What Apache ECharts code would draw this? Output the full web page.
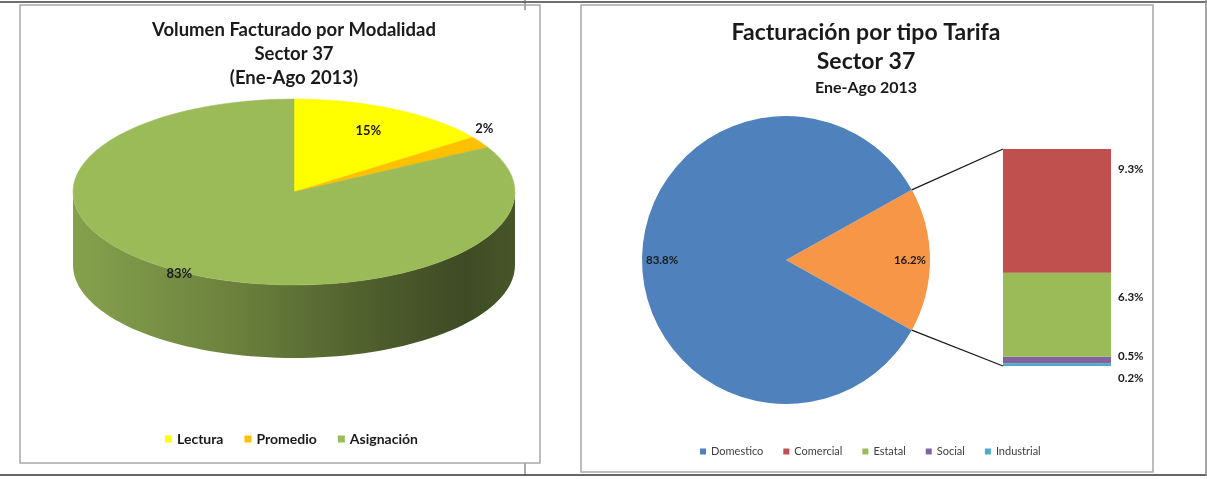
<!DOCTYPE html>
<html>
<head>
<meta charset="utf-8">
<script src="https://cdn.jsdelivr.net/npm/echarts@6/dist/echarts.min.js"></script>
<style>
  html, body { margin: 0; padding: 0; background: #fff; }
  #main { width: 1207px; height: 479px; }
</style>
</head>
<body>
<div id="main"></div>
<script>
// left chart: volumen facturado por modalidad
var modalNames = ['Lectura', 'Promedio', 'Asignación']
var modalValues = [15, 2, 83]

// right chart: facturacion por tipo tarifa
var tipoNames = ['Domestico', 'Comercial', 'Estatal', 'Social', 'Industrial']
var pieNames = ['Otros', 'Domestico']
var pieValues = [16.2, 83.8]
var barNames = ['Comercial', 'Estatal', 'Social', 'Industrial']
var barValues = [9.3, 6.3, 0.5, 0.2]

var FONT = 'Lato, "Open Sans", sans-serif'
var modalColors = ['#ffff00', '#ffc000', '#9bbb59']
var tipoColors = { Otros: '#f79646', Domestico: '#4f81bd', Comercial: '#c0504d', Estatal: '#9bbb59', Social: '#8064a2', Industrial: '#4bacc6' }

// 3d pie geometry (left)
var P3 = { cx: 294, cy: 192, rx: 221, ry: 93, depth: 73 }
var labelDist = [0.74, 1.02, 1.02]
// flat pie + bar (right)
var PIE = { cx: 786, cy: 260, r: 144 }
var BAR = { left: 1003, top: 149, width: 108, height: 217 }

function sum (arr) {
  return arr.reduce(function (a, b) { return a + b }, 0)
}

function shade (hex, k) {
  var n = parseInt(hex.slice(1), 16)
  var r = Math.round(((n >> 16) & 255) * k)
  var g = Math.round(((n >> 8) & 255) * k)
  var b = Math.round((n & 255) * k)
  return 'rgb(' + r + ',' + g + ',' + b + ')'
}

function ellPt (t) {
  return [P3.cx + P3.rx * Math.cos(t), P3.cy - P3.ry * Math.sin(t)]
}

function renderSlice (params, api) {
  var idx = modalNames.indexOf(params.seriesName)
  var total = sum(modalValues)
  var before = sum(modalValues.slice(0, idx))
  var t1 = Math.PI / 2 - before / total * Math.PI * 2
  var t2 = t1 - api.value(0) / total * Math.PI * 2
  var color = modalColors[idx]
  var N = 80
  var children = []
  var k, t, p

  // front side of the cylinder
  var lo = Math.max(t2, -Math.PI)
  var hi = Math.min(t1, 0)
  if (lo < hi) {
    var side = []
    for (k = 0; k <= N; k++) {
      t = hi - (hi - lo) * k / N
      side.push(ellPt(t))
    }
    for (k = N; k >= 0; k--) {
      t = hi - (hi - lo) * k / N
      p = ellPt(t)
      side.push([p[0], p[1] + P3.depth])
    }
    children.push({
      type: 'polygon',
      shape: { points: side },
      style: {
        fill: {
          type: 'linear', global: true,
          x: P3.cx - P3.rx, y: 0, x2: P3.cx + P3.rx, y2: 0,
          colorStops: [
            { offset: 0, color: shade(color, 0.86) },
            { offset: 0.35, color: shade(color, 0.7) },
            { offset: 0.65, color: shade(color, 0.52) },
            { offset: 0.88, color: shade(color, 0.4) },
            { offset: 1, color: shade(color, 0.46) }
          ]
        }
      }
    })
  }

  // top face
  var top = [[P3.cx, P3.cy]]
  for (k = 0; k <= N; k++) {
    top.push(ellPt(t1 - (t1 - t2) * k / N))
  }
  children.push({
    type: 'polygon',
    shape: { points: top },
    style: { fill: color, stroke: color, lineWidth: 0.5 }
  })

  // label
  var mid = (t1 + t2) / 2
  var f = labelDist[idx]
  var lx = P3.cx + P3.rx * f * Math.cos(mid)
  var ly = P3.cy - P3.ry * f * Math.sin(mid) - (mid > 0 && f > 1 ? 12 : 0)
  children.push({
    type: 'text',
    x: lx,
    y: ly,
    style: {
      text: api.value(0) + '%',
      fill: '#1a1a1a',
      font: 'bold 13px ' + FONT,
      align: 'center',
      verticalAlign: 'middle'
    }
  })
  return { type: 'group', children: children }
}

var myChart = echarts.init(document.getElementById('main'))

var series = []
modalNames.forEach(function (name, i) {
  series.push({
    name: name,
    type: 'custom',
    coordinateSystem: 'none',
    itemStyle: { color: modalColors[i] },
    renderItem: renderSlice,
    data: [[modalValues[i]]]
  })
})

var otrosAngle = pieValues[0] / sum(pieValues) * 360 / 2
var pieData = pieNames.map(function (n, i) {
  return { name: n, value: pieValues[i], itemStyle: { color: tipoColors[n] } }
})

series.push({
  name: 'Tarifa',
  type: 'pie',
  center: [PIE.cx, PIE.cy],
  radius: [0, PIE.r],
  startAngle: otrosAngle,
  clockwise: true,
  label: { show: false },
  labelLine: { show: false },
  itemStyle: { borderWidth: 0 },
  emphasis: { disabled: true },
  data: pieData
})
// transparent ring only to place the labels close to the edge
series.push({
  name: 'TarifaLabels',
  type: 'pie',
  center: [PIE.cx, PIE.cy],
  radius: [PIE.r * 0.68, PIE.r],
  startAngle: otrosAngle,
  clockwise: true,
  silent: true,
  avoidLabelOverlap: false,
  itemStyle: { color: 'rgba(0,0,0,0)', borderWidth: 0 },
  label: {
    show: true,
    position: 'inside',
    formatter: '{c}%',
    color: '#1a1a1a',
    fontFamily: FONT,
    fontWeight: 'bold',
    fontSize: 11.5
  },
  labelLine: { show: false },
  emphasis: { disabled: true },
  data: pieNames.map(function (n, i) { return { name: n, value: pieValues[i] } })
})

var labelOffsets = { Comercial: -42, Estatal: -17, Social: -4, Industrial: 14 }
barNames.slice().reverse().forEach(function (name) {
  var i = barNames.indexOf(name)
  series.push({
    name: name,
    type: 'bar',
    stack: 'otros',
    barWidth: '100%',
    itemStyle: { color: tipoColors[name], borderWidth: 0 },
    label: {
      show: true,
      position: 'right',
      distance: 7,
      offset: [0, labelOffsets[name]],
      formatter: '{c}%',
      color: '#1a1a1a',
      fontFamily: FONT,
      fontWeight: 'bold',
      fontSize: 11.5
    },
    emphasis: { disabled: true },
    data: [barValues[i]]
  })
})

myChart.setOption({
  animation: false,
  title: [
    {
      text: 'Volumen Facturado por Modalidad\nSector 37\n(Ene-Ago 2013)',
      left: P3.cx,
      top: 18,
      padding: 0,
      textAlign: 'center',
      textStyle: { fontFamily: FONT, fontSize: 18.5, fontWeight: 'bold', lineHeight: 24, color: '#1a1a1a' }
    },
    {
      text: '{a|Facturación por tipo Tarifa}\n{a|Sector 37}\n{b|Ene-Ago 2013}',
      left: 866,
      top: 18,
      padding: 0,
      textAlign: 'center',
      textStyle: {
        rich: {
          a: { fontFamily: FONT, fontSize: 23, fontWeight: 'bold', lineHeight: 29, color: '#1a1a1a', align: 'center' },
          b: { fontFamily: FONT, fontSize: 16, fontWeight: 'bold', lineHeight: 24, color: '#1a1a1a', align: 'center' }
        }
      }
    }
  ],
  legend: [
    {
      data: modalNames,
      left: 165,
      top: 432,
      padding: 0,
      icon: 'rect',
      itemWidth: 7,
      itemHeight: 7,
      itemGap: 21,
      selectedMode: false,
      textStyle: { fontFamily: FONT, fontSize: 14, fontWeight: 'bold', color: '#1a1a1a' }
    },
    {
      data: tipoNames,
      left: 700,
      top: 446,
      padding: 0,
      icon: 'rect',
      itemWidth: 6,
      itemHeight: 6,
      itemGap: 20,
      selectedMode: false,
      textStyle: { fontFamily: FONT, fontSize: 11, color: '#404040' }
    }
  ],
  grid: {
    left: BAR.left,
    top: BAR.top,
    width: BAR.width,
    height: BAR.height,
    containLabel: false,
    outerBoundsMode: 'none'
  },
  xAxis: { type: 'category', data: ['Otros'], show: false },
  yAxis: { type: 'value', min: 0, max: sum(barValues), show: false },
  graphic: [
    { id: 'topLine', type: 'line', shape: { x1: 0, y1: 2, x2: 1207, y2: 2 }, style: { stroke: '#707070', lineWidth: 2 } },
    { id: 'botLine', type: 'line', shape: { x1: 0, y1: 475, x2: 1207, y2: 475 }, style: { stroke: '#333333', lineWidth: 1.5 } },
    { id: 'rightEdge', type: 'line', shape: { x1: 1206, y1: 0, x2: 1206, y2: 476 }, style: { stroke: '#8a8a8a', lineWidth: 1.5 } },
    { id: 'tickTop', type: 'line', shape: { x1: 525, y1: 0, x2: 525, y2: 10 }, style: { stroke: '#555555', lineWidth: 1 } },
    { id: 'tickBot', type: 'line', shape: { x1: 525, y1: 463, x2: 525, y2: 475 }, style: { stroke: '#555555', lineWidth: 1 } },
    { id: 'boxLeft', type: 'rect', shape: { x: 20, y: 5, width: 520, height: 458 }, style: { fill: 'none', stroke: '#a8a8a8', lineWidth: 1.5 } },
    { id: 'boxRight', type: 'rect', shape: { x: 581, y: 5, width: 572, height: 467 }, style: { fill: 'none', stroke: '#a8a8a8', lineWidth: 1.5 } }
  ],
  series: series
})

// connector lines from the orange slice to the stacked bar
var a = otrosAngle * Math.PI / 180
var barTop = myChart.convertToPixel({ gridIndex: 0 }, [0, sum(barValues)])[1]
var barBottom = myChart.convertToPixel({ gridIndex: 0 }, [0, 0])[1]
myChart.setOption({
  graphic: [
    { id: 'conn1', type: 'line', z: 10, shape: { x1: PIE.cx + PIE.r * Math.cos(a), y1: PIE.cy - PIE.r * Math.sin(a), x2: BAR.left, y2: barTop }, style: { stroke: '#1a1a1a', lineWidth: 1.3 } },
    { id: 'conn2', type: 'line', z: 10, shape: { x1: PIE.cx + PIE.r * Math.cos(a), y1: PIE.cy + PIE.r * Math.sin(a), x2: BAR.left, y2: barBottom }, style: { stroke: '#1a1a1a', lineWidth: 1.3 } }
  ]
})
</script>
</body>
</html>
